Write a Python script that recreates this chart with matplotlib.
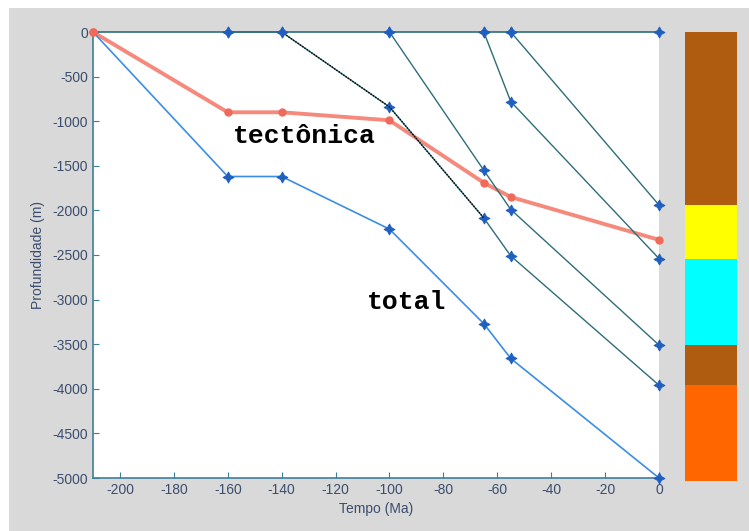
import matplotlib
matplotlib.use("Agg")
import matplotlib.pyplot as plt
from matplotlib.patches import Rectangle

plt.rcParams["axes.unicode_minus"] = False
plt.rcParams["font.family"] = ["Liberation Sans", "DejaVu Sans"]

# tempo (Ma) dos eventos
tempo = [-210, -160, -140, -100, -65, -55, 0]

# subsidencia total (embasamento) e tectonica
total = [0, -1620, -1620, -2210, -3270, -3660, -5000]
tectonica = [0, -900, -900, -990, -1690, -1850, -2330]

# soterramento de cada horizonte
h1_t = [-160, -140, -100, -65, -55, 0]
h1_z = [0, 0, -840, -2085, -2510, -3960]
h2_t = [-100, -65, -55, 0]
h2_z = [0, -1550, -1990, -3510]
h3_t = [-65, -55, 0]
h3_z = [0, -780, -2540]
h4_t = [-55, 0]
h4_z = [0, -1940]
sup_t = [-160, -140, -100, -65, -55, 0]

# coluna estratigrafica (profundidade atual)
col_topo = [0, -1940, -2540, -3510, -3960]
col_base = [-1940, -2540, -3510, -3960, -5030]
col_cores = ["#b05c10", "#ffff00", "#00ffff", "#b05c10", "#ff6600"]

W, H = 749, 531
fig = plt.figure(figsize=(W / 100, H / 100), dpi=100)
fig.patch.set_facecolor("white")
fig.patches.append(Rectangle((9 / W, 0), 1, 1 - 8 / H, transform=fig.transFigure,
                             facecolor="#d9d9d9", edgecolor="none", zorder=-10))

ax = fig.add_axes([93 / W, 1 - 478 / H, 566 / W, 446 / H])
ax.set_facecolor("white")

teal = "#2e6e78"
mk = "#1f5fbf"
estrela = (4, 1, 0)

ax.plot([-210, 0], [0, 0], color=teal, lw=1.2, zorder=3, clip_on=False)
ax.plot(sup_t, [0] * len(sup_t), ls="none", marker=estrela, ms=8, mew=0.6,
        color=mk, zorder=5, clip_on=False)

for t, z in [(h1_t, h1_z), (h2_t, h2_z), (h3_t, h3_z), (h4_t, h4_z)]:
    ax.plot(t, z, color=teal, lw=1.0, marker=estrela, ms=8, mew=0.6,
            mfc=mk, mec=mk, zorder=4, clip_on=False)
# trecho destacado em preto
ax.plot(h1_t[1:4], h1_z[1:4], color="black", lw=1.0, ls=(0, (1, 1)), zorder=4)

ax.plot(tempo, total, color="#3a8ee6", lw=1.2, marker=estrela, ms=8, mew=0.6,
        mfc=mk, mec=mk, zorder=4, clip_on=False, markevery=list(range(1, len(tempo))))
ax.plot(tempo, tectonica, color="#f4897c", lw=2.8, marker="o", ms=5,
        mfc="#f06a5a", mec="#f06a5a", zorder=3, clip_on=False)
ax.plot(tempo[:1], tectonica[:1], ls="none", marker="o", ms=5,
        color="#f06a5a", zorder=6, clip_on=False)

ax.text(-158, -1170, "tectônica", family="Liberation Mono", weight="bold",
        fontsize=19, va="center", ha="left", color="black")
ax.text(-108.5, -3030, "total", family="Liberation Mono", weight="bold",
        fontsize=19, va="center", ha="left", color="black")

ax.set_xlim(-210, 0)
ax.set_ylim(-5000, 0)
ax.set_xticks(range(-200, 1, 20))
ax.set_yticks(range(-5000, 1, 500))
txt = "#3b4d6e"
ax.tick_params(direction="in", length=4, colors="#3d7f99", labelcolor=txt, labelsize=10)
for s in ["top", "right"]:
    ax.spines[s].set_visible(False)
for s in ["left", "bottom"]:
    ax.spines[s].set_color("#3d7f99")
    ax.spines[s].set_linewidth(1.2)
ax.set_xlabel("Tempo (Ma)", fontsize=10, color=txt, labelpad=4)
ax.set_ylabel("Profundidade (m)", fontsize=10, color=txt, labelpad=5)

# coluna estratigrafica a direita
cax = fig.add_axes([685 / W, 1 - 478 / H, 52 / W, 446 / H])
cax.set_xlim(0, 1)
cax.set_ylim(-5000, 0)
cax.axis("off")
for topo, base, cor in zip(col_topo, col_base, col_cores):
    cax.add_patch(Rectangle((0, base), 1, topo - base, facecolor=cor,
                            edgecolor="none", clip_on=False))

fig.savefig("out.png", dpi=100, facecolor=fig.get_facecolor())
